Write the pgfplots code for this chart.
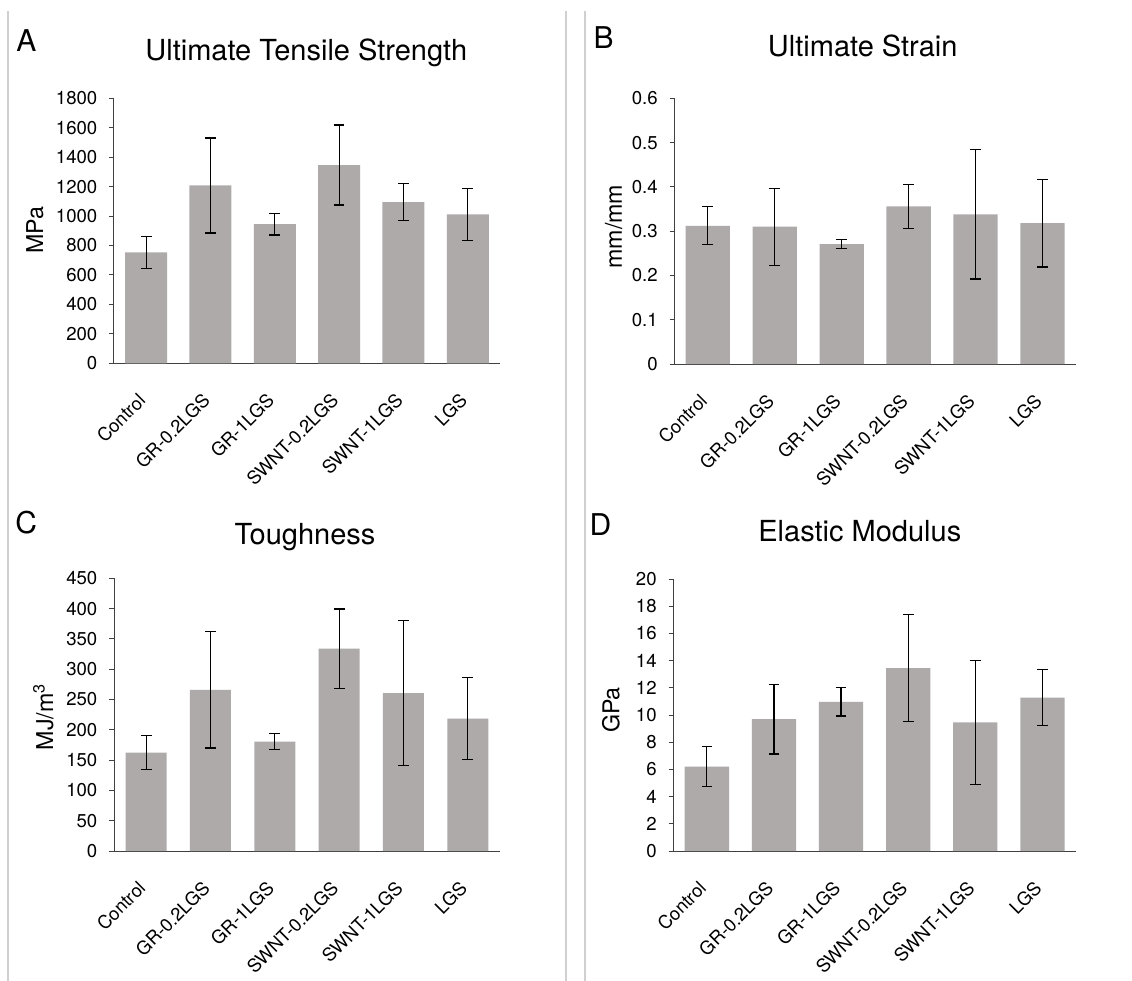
\documentclass[border=0pt]{standalone}
\usepackage{fontspec}
\setmainfont{TeX Gyre Heros}
\usepackage{pgfplots}
\usepackage{pgfplotstable}
\pgfplotsset{compat=1.18}
\definecolor{barc}{HTML}{AEAAAA}
\definecolor{framec}{HTML}{D0D0D0}
\definecolor{axc}{HTML}{404040}

\pgfplotstableread{
x y e
0 753 108
1 1208 323
2 945 73
3 1347 272
4 1095 126
5 1011 175
}\dataA
\pgfplotstableread{
x y e
0 0.312 0.043
1 0.310 0.087
2 0.271 0.011
3 0.356 0.050
4 0.338 0.146
5 0.318 0.099
}\dataB
\pgfplotstableread{
x y e
0 162.5 28.5
1 266 96
2 180.5 13
3 334 65.5
4 260.5 120
5 218.5 68
}\dataC
\pgfplotstableread{
x y e
0 6.2 1.46
1 9.7 2.56
2 10.97 1.05
3 13.45 3.94
4 9.46 4.57
5 11.28 2.07
}\dataD

\pgfplotsset{
  panel/.style={
    scale only axis, anchor=south west,
    xmin=-0.5, xmax=5.5, ymin=0,
    axis x line*=bottom, axis y line*=left,
    axis line style={axc, line width=0.5pt, -},
    xtick={0,...,5},
    xticklabels={Control,GR-0.2LGS,GR-1LGS,SWNT-0.2LGS,SWNT-1LGS,LGS},
    x tick style={draw=none},
    y tick style={axc, line width=0.5pt},
    tick align=outside, major tick length=2.3pt,
    /pgf/number format/assume math mode=true,
    /pgf/number format/1000 sep={},
    yticklabel style={font=\fontsize{9.3}{10}\selectfont, text=black, xshift=-2.5pt},
    xticklabel style={font=\fontsize{9.2}{11}\selectfont, text=black, xshift=-2pt, yshift=-14.5pt, rotate=45, anchor=east, inner sep=0pt},
    ylabel style={font=\fontsize{11.6}{13}\selectfont, anchor=center},
  },
  bars/.style={ybar, fill=barc, draw=none,
    error bars/y dir=both, error bars/y explicit,
    error bars/error bar style={black, line width=0.6pt},
    error bars/error mark options={rotate=90, mark size=2.67pt, black, line width=0.6pt}},
}

\begin{document}
\begin{tikzpicture}
\path[use as bounding box] (0,0) rectangle (566pt,-490.5pt);
\draw[framec, line width=0.6pt] (4pt,-5.5pt) -- (4pt,-490.5pt);
\draw[framec, line width=0.6pt] (283pt,-5.5pt) -- (283pt,-490.5pt);
\draw[framec, line width=0.6pt] (292.5pt,-5.5pt) -- (292.5pt,-490.5pt);

\tikzset{lett/.style={anchor=base west, inner sep=0pt, font=\fontsize{15}{18}\selectfont},
         ttl/.style={anchor=base, inner sep=0pt, font=\fontsize{14.5}{17}\selectfont}}
\node[lett] at (8pt,-25.75pt) {A};
\node[lett] at (296.6pt,-24.15pt) {B};
\node[lett] at (7.5pt,-266.65pt) {C};
\node[lett] at (294.6pt,-267.5pt) {D};

\node[ttl] at (153.15pt,-30pt) {Ultimate Tensile Strength};
\node[ttl] at (431.35pt,-28.35pt) {Ultimate Strain};
\node[ttl] at (152.5pt,-272.15pt) {Toughness};
\node[ttl] at (429.9pt,-270.85pt) {Elastic Modulus};

\begin{axis}[panel, at={(57pt,-181.65pt)}, width=193pt, height=132.5pt,
  ymax=1800, ytick={0,200,...,1800}, ylabel={MPa},
  ylabel style={at={(axis description cs:-0.205,0.503)}}]
\addplot[bars, bar width=21pt] table[x=x, y=y, y error=e] {\dataA};
\end{axis}

\begin{axis}[panel, at={(337.15pt,-182pt)}, width=200.85pt, height=132.85pt,
  ymax=0.6, ytick={0,0.1,...,0.6}, ylabel={mm/mm},
  yticklabel style={/pgf/number format/fixed, /pgf/number format/precision=1},
  ylabel style={at={(axis description cs:-0.151,0.517)}}]
\addplot[bars, bar width=22.15pt] table[x=x, y=y, y error=e] {\dataB};
\end{axis}

\begin{axis}[panel, at={(57pt,-425.5pt)}, width=193pt, height=136.35pt,
  ymax=450, ytick={0,50,...,450}, ylabel={MJ/m\textsuperscript{3}},
  ylabel style={at={(axis description cs:-0.183,0.492)}}]
\addplot[bars, bar width=20.5pt] table[x=x, y=y, y error=e] {\dataC};
\end{axis}

\begin{axis}[panel, at={(336.65pt,-425.5pt)}, width=201.35pt, height=136pt,
  ymax=20, ytick={0,2,...,20}, ylabel={GPa},
  ylabel style={at={(axis description cs:-0.155,0.518)}}]
\addplot[bars, bar width=22.15pt] table[x=x, y=y, y error=e] {\dataD};
\end{axis}
\end{tikzpicture}
\end{document}
